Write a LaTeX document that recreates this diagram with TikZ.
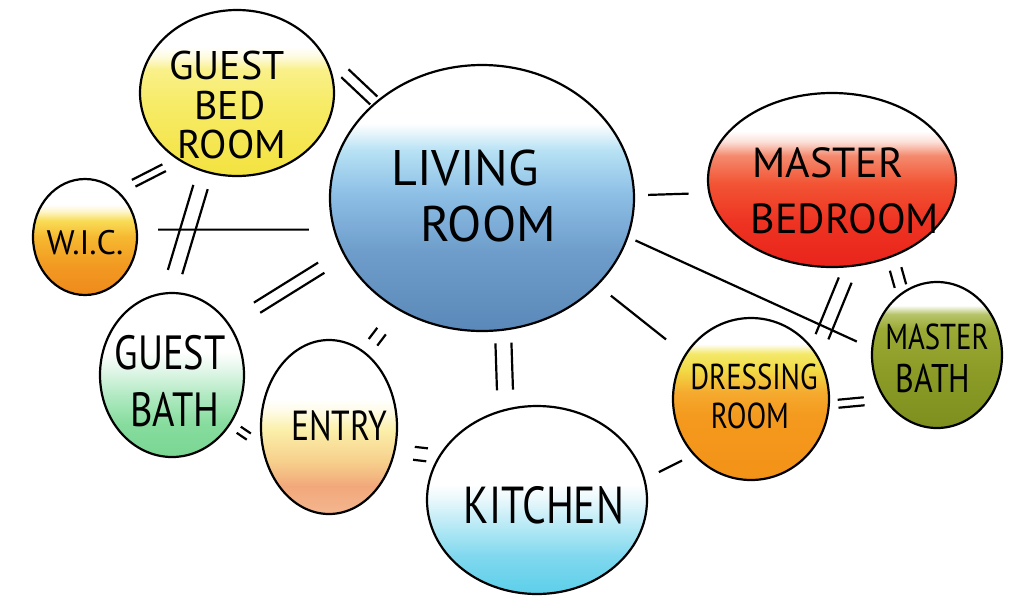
\documentclass[tikz,border=0pt]{standalone}
\usepackage{fontspec}
\newfontfamily\hand{PT Sans}
\newfontfamily\handc[FakeStretch=0.8]{PT Sans}
\usetikzlibrary{shapes.geometric}

% living room
\definecolor{lvA}{HTML}{5A88B8}
\definecolor{lvB}{HTML}{6E9DCB}
\definecolor{lvC}{HTML}{8EC0E6}
\definecolor{lvD}{HTML}{B8E2F4}
% guest bed
\definecolor{gbA}{HTML}{F3E23F}
\definecolor{gbB}{HTML}{F7EC6A}
\definecolor{gbC}{HTML}{F9F08A}
\definecolor{gbD}{HTML}{FEFBE0}
% wic
\definecolor{wiA}{HTML}{EF8A1C}
\definecolor{wiB}{HTML}{F29A22}
\definecolor{wiC}{HTML}{F6B830}
\definecolor{wiD}{HTML}{F9DC55}
\definecolor{wiE}{HTML}{FEF5C8}
% master bed
\definecolor{mbA}{HTML}{E9241B}
\definecolor{mbB}{HTML}{EE3322}
\definecolor{mbC}{HTML}{F25434}
\definecolor{mbD}{HTML}{F48A6E}
\definecolor{mbE}{HTML}{FCE0D8}
% guest bath
\definecolor{ghA}{HTML}{7AD693}
\definecolor{ghB}{HTML}{86DC9D}
\definecolor{ghC}{HTML}{B2EAC3}
\definecolor{ghD}{HTML}{E4F7EA}
% entry
\definecolor{enA}{HTML}{F4B690}
\definecolor{enB}{HTML}{F2A87A}
\definecolor{enC}{HTML}{F6CF8C}
\definecolor{enD}{HTML}{FBEFA8}
\definecolor{enE}{HTML}{FFFCEA}
% kitchen
\definecolor{kiA}{HTML}{5CCFEA}
\definecolor{kiB}{HTML}{7FD8EE}
\definecolor{kiC}{HTML}{BDEBF6}
\definecolor{kiD}{HTML}{EEF9FC}
% dressing
\definecolor{drA}{HTML}{F39217}
\definecolor{drB}{HTML}{F49A1E}
\definecolor{drC}{HTML}{F5AA2E}
\definecolor{drD}{HTML}{F2DA45}
\definecolor{drE}{HTML}{F4E86A}
% master bath
\definecolor{mhA}{HTML}{7F8F1F}
\definecolor{mhB}{HTML}{8C9C26}
\definecolor{mhC}{HTML}{9BAA35}
\definecolor{mhD}{HTML}{B8C46A}

\pgfdeclareverticalshading{shLiving}{100bp}{color(0bp)=(lvA); color(25bp)=(lvA); color(40bp)=(lvB); color(51bp)=(lvC); color(59bp)=(lvD); color(64bp)=(white); color(100bp)=(white)}
\pgfdeclareverticalshading{shGbed}{100bp}{color(0bp)=(gbA); color(25bp)=(gbA); color(48bp)=(gbB); color(57bp)=(gbC); color(61bp)=(gbD); color(64bp)=(white); color(100bp)=(white)}
\pgfdeclareverticalshading{shWic}{100bp}{color(0bp)=(wiA); color(25bp)=(wiA); color(38bp)=(wiB); color(50bp)=(wiC); color(57bp)=(wiD); color(61bp)=(wiE); color(64bp)=(white); color(100bp)=(white)}
\pgfdeclareverticalshading{shMbed}{100bp}{color(0bp)=(mbA); color(25bp)=(mbA); color(38bp)=(mbB); color(49bp)=(mbC); color(57bp)=(mbD); color(61bp)=(mbE); color(64bp)=(white); color(100bp)=(white)}
\pgfdeclareverticalshading{shGbath}{100bp}{color(0bp)=(ghA); color(25bp)=(ghA); color(35bp)=(ghB); color(44bp)=(ghC); color(52bp)=(ghD); color(57bp)=(white); color(100bp)=(white)}
\pgfdeclareverticalshading{shEntry}{100bp}{color(0bp)=(enA); color(25bp)=(enA); color(33bp)=(enB); color(40bp)=(enC); color(49bp)=(enD); color(55bp)=(enE); color(58bp)=(white); color(100bp)=(white)}
\pgfdeclareverticalshading{shKitchen}{100bp}{color(0bp)=(kiA); color(25bp)=(kiA); color(35bp)=(kiB); color(44bp)=(kiC); color(51bp)=(kiD); color(54bp)=(white); color(100bp)=(white)}
\pgfdeclareverticalshading{shDress}{100bp}{color(0bp)=(drA); color(25bp)=(drA); color(45bp)=(drB); color(52bp)=(drC); color(59bp)=(drD); color(64bp)=(drE); color(67bp)=(white); color(100bp)=(white)}
\pgfdeclareverticalshading{shMbath}{100bp}{color(0bp)=(mhA); color(25bp)=(mhA); color(45bp)=(mhB); color(59bp)=(mhC); color(64bp)=(mhD); color(67bp)=(white); color(100bp)=(white)}

\begin{document}
\begin{tikzpicture}[x=0.5pt,y=-0.5pt,
  bubble/.style={ellipse, draw=black, line width=1.1pt, inner sep=0pt},
  lab/.style={font={\hand\fontsize{#1}{#1}\selectfont}, inner sep=0pt, text=black},
  labc/.style={font={\handc\fontsize{#1}{#1}\selectfont}, inner sep=0pt, text=black},
  sgl/.style={draw=black, line width=1.1pt},
  off/.style={transform canvas={shift={#1}}},
]
\useasboundingbox (0,0) rectangle (1013,596);

% ---------------- bubbles ----------------
\node[bubble, shading=shGbed, minimum width=97pt, minimum height=83pt,
  label={[lab=20pt, xshift=-5pt, yshift=14pt]center:GUEST},
  label={[lab=20pt, xshift=-3.5pt, yshift=-6.5pt]center:BED},
  label={[lab=20pt, xshift=-2.5pt, yshift=-25.5pt]center:ROOM}] (gbed) at (237,93) {};

\node[bubble, shading=shWic, minimum width=52pt, minimum height=58pt,
  label={[lab=17pt, yshift=-3pt]center:W.I.C.}] (wic) at (85,237) {};

\node[bubble, shading=shLiving, minimum width=152pt, minimum height=133pt,
  label={[lab=25pt, xshift=-8.5pt, yshift=15pt]center:LIVING},
  label={[lab=25pt, xshift=3pt, yshift=-13pt]center:ROOM}] (living) at (482,198) {};

\node[bubble, shading=shMbed, minimum width=124pt, minimum height=87pt,
  label={[lab=21pt, xshift=-2pt, yshift=8.5pt]center:MASTER},
  label={[lab=21pt, xshift=6.5pt, yshift=-19.5pt]center:BEDROOM}] (mbed) at (832,180) {};

\node[bubble, shading=shGbath, minimum width=72pt, minimum height=82pt,
  label={[labc=24pt, xshift=-1pt, yshift=11pt]center:GUEST},
  label={[labc=24pt, xshift=1.5pt, yshift=-17.5pt]center:BATH}] (gbath) at (172,375) {};

\node[bubble, shading=shEntry, minimum width=68pt, minimum height=87pt,
  label={[labc=21pt, xshift=5pt, yshift=0.5pt]center:ENTRY}] (entry) at (329,427) {};

\node[bubble, shading=shKitchen, minimum width=110pt, minimum height=94pt,
  label={[labc=26pt, xshift=3.5pt, yshift=-2.5pt]center:KITCHEN}] (kitchen) at (537,500) {};

\node[bubble, shading=shDress, minimum width=78pt, minimum height=81pt,
  label={[labc=18pt, xshift=1.5pt, yshift=11pt]center:DRESSING},
  label={[labc=18pt, xshift=-0.5pt, yshift=-8.5pt]center:ROOM}] (dress) at (751,399) {};

\node[bubble, shading=shMbath, minimum width=65pt, minimum height=73pt,
  label={[labc=18pt, yshift=9pt]center:MASTER},
  label={[labc=20pt, xshift=-2pt, yshift=-11.5pt]center:BATH}] (mbath) at (937,355) {};

% ---------------- double connectors (two parallel strokes) ----------------
\foreach \s in {1,-1}{
  \draw[sgl, off={(\s*1.8pt,\s*1.98pt)}, shorten <=14.9pt, shorten >=1pt] (gbed.25) -- (living.138);
  \draw[sgl, off={(\s*0.89pt,\s*-1.68pt)}, shorten <=8pt, shorten >=8.6pt] (gbed.229) -- (wic.54);
  \draw[sgl, off={(\s*3.59pt,\s*-1.07pt)}, shorten <=7.6pt, shorten >=10.4pt] (gbed.248) -- (gbath.92);
  \draw[sgl, off={(\s*-1.58pt,\s*2.55pt)}, shorten <=15.9pt, shorten >=12.8pt] (gbath.41) -- (living.202);
  \draw[sgl, off={(\s*-2.14pt,\s*1.65pt)}, shorten <=6.2pt, shorten >=13.3pt] (entry.64) -- (living.233);
  \draw[sgl, off={(\s*4pt,\s*0.16pt)}, shorten <=6.1pt, shorten >=9.4pt] (living.279) -- (kitchen.109);
  \draw[sgl, off={(\s*0.43pt,\s*3.23pt)}, shorten <=9.3pt, shorten >=5.7pt] (entry.340) -- (kitchen.156);
  \draw[sgl, off={(\s*1.03pt,\s*1.54pt)}, shorten <=4.8pt, shorten >=7.6pt] (gbath.320) -- (entry.195);
  \draw[sgl, off={(\s*-3.19pt,\s*1.32pt)}, shorten <=8.2pt, shorten >=7pt] (dress.36) -- (mbed.282);
  \draw[sgl, off={(\s*2.86pt,\s*0.9pt)}, shorten <=6.1pt, shorten >=3.1pt] (mbed.308) -- (mbath.119);
  \draw[sgl, off={(\s*-0.21pt,\s*1.99pt)}, shorten <=4.1pt, shorten >=10pt] (dress.356) -- (mbath.220);
}

% ---------------- single connectors ----------------
\draw[sgl, shorten <=10.2pt, shorten >=12.2pt] (wic.8) -- (living.192);
\draw[sgl, shorten <=6.5pt, shorten >=9.8pt] (living.1) -- (mbed.186);
\draw[sgl, shorten <=3.9pt, shorten >=7.9pt] (living.345.5) -- (mbath.174);
\draw[sgl, shorten <=8.2pt, shorten >=11.9pt] (living.323) -- (dress.146);
\draw[sgl, shorten <=7.6pt, shorten >=6.2pt] (kitchen.11) -- (dress.224);
\end{tikzpicture}
\end{document}
